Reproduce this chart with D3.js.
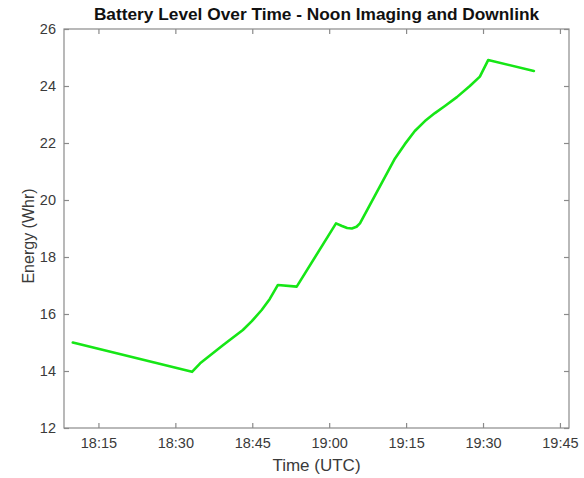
<!DOCTYPE html>
<html>
<head>
<meta charset="utf-8">
<script src="https://cdn.jsdelivr.net/npm/d3@7/dist/d3.min.js"></script>
<style>
  html, body { margin: 0; padding: 0; background: #fff; }
  svg { display: block; font-family: "Liberation Sans", Arial, sans-serif; }
</style>
</head>
<body>
<svg id="chart" width="584" height="478"></svg>
<script>
// Sample times (UTC, hh:mm:ss) and battery energy (Whr)
const times = [
  "18:10:00", "18:33:15", "18:34:50", "18:39:20", "18:43:10", "18:44:55",
  "18:46:50", "18:48:25", "18:50:00", "18:53:40", "19:01:20", "19:02:30",
  "19:03:30", "19:04:25", "19:05:20", "19:06:00", "19:12:50", "19:14:45",
  "19:16:42", "19:18:40", "19:20:37", "19:22:34", "19:24:54", "19:27:26",
  "19:29:23", "19:31:00", "19:39:55"
];
const energy = [
  15.00, 13.97, 14.27, 14.91, 15.44, 15.75,
  16.14, 16.53, 17.02, 16.96, 19.18, 19.09,
  19.02, 19.00, 19.06, 19.18, 21.46, 21.96,
  22.42, 22.77, 23.05, 23.30, 23.61, 24.00,
  24.33, 24.91, 24.53
];
const xTickLabels = ["18:15", "18:30", "18:45", "19:00", "19:15", "19:30", "19:45"];
const yTicks = [12, 14, 16, 18, 20, 22, 24, 26];
const xLimits = ["18:08:17", "19:46:46"];
const yLimits = [12, 26];

const title = "Battery Level Over Time - Noon Imaging and Downlink";
const xLabel = "Time (UTC)";
const yLabel = "Energy (Whr)";

const parse = d3.utcParse("%H:%M:%S");
const parseHM = d3.utcParse("%H:%M");
const data = times.map((t, i) => ({ t: parse(t), v: energy[i] }));

const W = 584, H = 478;
const m = { left: 64, right: 15, top: 29, bottom: 50 };
const svg = d3.select("#chart");

const x = d3.scaleUtc().domain(xLimits.map(parse)).range([m.left, W - m.right]);
const y = d3.scaleLinear().domain(yLimits).range([H - m.bottom, m.top]);

const axisColor = "#8a8a8a";
const textColor = "#3a3a3a";
const tickLen = 5;
const xTicks = xTickLabels.map(parseHM);

// Box around the plot area
svg.append("rect")
  .attr("x", m.left).attr("y", m.top)
  .attr("width", W - m.left - m.right).attr("height", H - m.top - m.bottom)
  .attr("fill", "none").attr("stroke", axisColor).attr("stroke-width", 1.2);

// Bottom axis (inward ticks)
const gx = svg.append("g").attr("transform", `translate(0,${H - m.bottom})`)
  .call(d3.axisBottom(x).tickValues(xTicks).tickFormat(d3.utcFormat("%H:%M"))
    .tickSizeInner(-tickLen).tickSizeOuter(0).tickPadding(10));
// Top axis mirrored ticks
const gxt = svg.append("g").attr("transform", `translate(0,${m.top})`)
  .call(d3.axisTop(x).tickValues(xTicks).tickFormat("")
    .tickSizeInner(-tickLen).tickSizeOuter(0));
// Left axis
const gy = svg.append("g").attr("transform", `translate(${m.left},0)`)
  .call(d3.axisLeft(y).tickValues(yTicks).tickFormat(d3.format("d"))
    .tickSizeInner(-tickLen).tickSizeOuter(0).tickPadding(8));
// Right axis mirrored ticks
const gyr = svg.append("g").attr("transform", `translate(${W - m.right},0)`)
  .call(d3.axisRight(y).tickValues(yTicks).tickFormat("")
    .tickSizeInner(-tickLen).tickSizeOuter(0));

[gx, gxt, gy, gyr].forEach(g => {
  g.select(".domain").remove();
  g.selectAll(".tick line").attr("stroke", axisColor).attr("stroke-width", 1.2);
  g.selectAll(".tick text").attr("fill", textColor)
    .style("font-family", "'Liberation Sans', Arial, sans-serif");
});
gx.selectAll(".tick text").style("font-size", "14.5px");
gy.selectAll(".tick text").style("font-size", "14.5px");

// Battery energy line
const line = d3.line().x(d => x(d.t)).y(d => y(d.v));
svg.append("path").datum(data)
  .attr("d", line)
  .attr("fill", "none")
  .attr("stroke", "#16e616")
  .attr("stroke-width", 2.6)
  .attr("stroke-linejoin", "round")
  .attr("stroke-linecap", "round");

// Title and axis labels
const cx = (m.left + W - m.right) / 2;
svg.append("text").attr("x", cx).attr("y", 20)
  .attr("text-anchor", "middle").attr("font-weight", "bold")
  .attr("font-size", 17.3).attr("fill", "#111").text(title);
svg.append("text").attr("x", cx).attr("y", 471)
  .attr("text-anchor", "middle").attr("font-size", 17)
  .attr("fill", textColor).text(xLabel);
svg.append("text").attr("transform", `translate(34,236) rotate(-90)`)
  .attr("text-anchor", "middle").attr("font-size", 16)
  .attr("fill", textColor).text(yLabel);
</script>
</body>
</html>
